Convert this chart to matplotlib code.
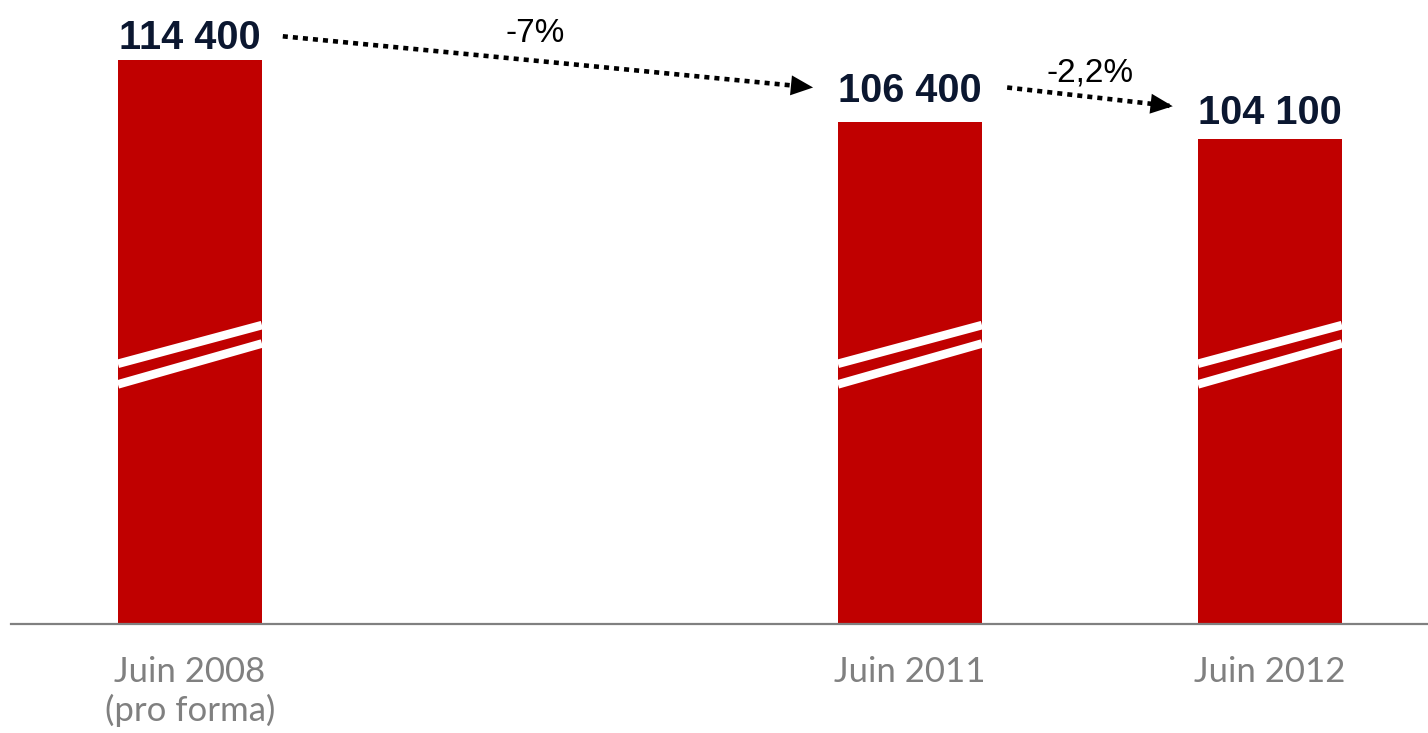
import matplotlib.pyplot as plt

# Data
categories = ['Juin 2008\n(pro forma)', 'Juin 2011', 'Juin 2012']
positions = [0, 2, 3]
values = [114400, 106400, 104100]
value_labels = ['114 400', '106 400', '104 100']
changes = ['-7%', '-2,2%']

bar_color = '#C00000'
label_color = '#0B1730'
cat_color = '#808080'
label_pads = [8, 14, 11]  # points above each bar

fig = plt.figure(figsize=(14.28, 7.33), dpi=100)
ax = fig.add_axes([11 / 1428, 109 / 733, 1 - 11 / 1428, 624 / 733])

bar_w = 0.4
ax.bar(positions, values, width=bar_w, color=bar_color, zorder=2)

# broken axis: the value scale does not start at zero
ymin, ymax = 40650, 122300
ax.set_ylim(ymin, ymax)
ax.set_xlim(-0.497, 3.439)

# break marks (two white slanted bands across each bar)
for x in positions:
    for y_left, y_right in [(0.417, 0.479), (0.384, 0.4495)]:
        ax.plot([x - bar_w / 2, x + bar_w / 2], [y_left, y_right],
                transform=ax.get_xaxis_transform(), color='white',
                lw=6.2, solid_capstyle='butt', zorder=3)

# value labels
for x, v, lab, pad in zip(positions, values, value_labels, label_pads):
    ax.annotate(lab, (x, v), xytext=(0, pad), textcoords='offset points',
                ha='center', va='baseline', fontsize=28.5, fontweight='bold',
                color=label_color, family='Liberation Sans')


# dotted arrows between labels
def dotted_arrow(x0, y0, x1, y1):
    ax.plot([x0, x1 - 0.02 * (x1 - x0)], [y0, y1 - 0.02 * (y1 - y0)],
            color='black', lw=3.3, linestyle=(0, (1.1, 1.1)),
            dash_capstyle='butt', zorder=4)
    ax.annotate('', xy=(x1, y1), xytext=(x1 - 0.05 * (x1 - x0), y1 - 0.05 * (y1 - y0)),
                arrowprops=dict(arrowstyle='-|>,head_length=0.8,head_width=0.36',
                                facecolor='black', lw=0, mutation_scale=20,
                                shrinkA=0, shrinkB=0), zorder=4)


dotted_arrow(0.258, values[0] + 3150, 1.731, values[1] + 4450)
dotted_arrow(2.27, values[1] + 4450, 2.73, values[2] + 4300)

ax.text(0.96, values[0] + 2400, changes[0], ha='center', va='baseline',
        fontsize=24, color='black', family='Liberation Sans')
ax.text(2.5, values[1] + 5300, changes[1], ha='center', va='baseline',
        fontsize=24, color='black', family='Liberation Sans')

# axes styling
for s in ['top', 'right', 'left']:
    ax.spines[s].set_visible(False)
ax.spines['bottom'].set_color('#808080')
ax.spines['bottom'].set_linewidth(1.6)
ax.set_yticks([])
ax.set_xticks(positions)
ax.set_xticklabels(categories, fontsize=25, color=cat_color,
                   family='Lato', linespacing=1.2)
ax.tick_params(axis='x', length=0, pad=23)

fig.savefig('out.png', dpi=100)
